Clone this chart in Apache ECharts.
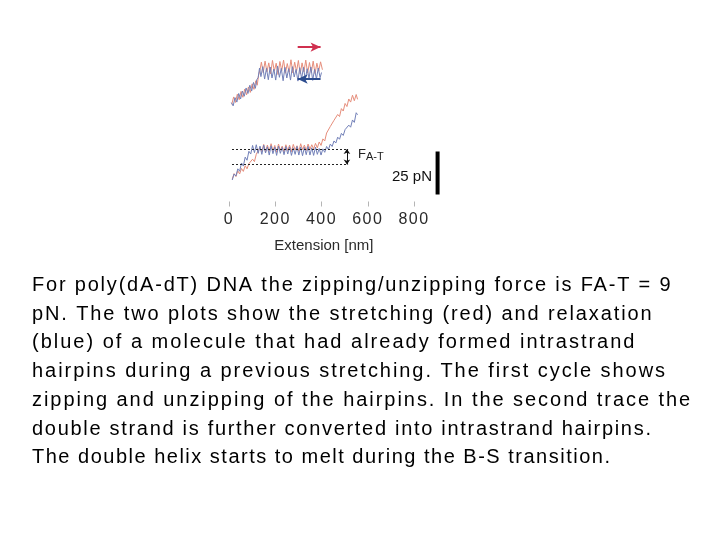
<!DOCTYPE html>
<html><head><meta charset="utf-8">
<script src="https://cdn.jsdelivr.net/npm/echarts@6/dist/echarts.min.js"></script>
<style>html,body{margin:0;padding:0;background:#fff}#c{width:720px;height:540px}</style>
</head><body><div id="c"></div>
<script>
// ---- data (nm, pN) ----
const xTicks = [0, 200, 400, 600, 800];
const xDrawMax = 920;        // room for the 25 pN scale bar right of the traces
const topStretch = [[12,56.5],[20,60.8],[28,57.6],[36,62.4],[44,59.2],[52,64.0],[60,60.6],[68,65.4],[76,62.0],[84,66.6],[92,63.4],[100,68.4],[108,65.2],[116,70.2],[122,67.6],[128,73.5],[134,76.4],[140,81.0],[148,75.0],[156,81.6],[164,75.4],[172,80.6],[180,74.2],[188,82.0],[196,75.8],[204,80.4],[212,73.8],[220,81.4],[228,76.0],[236,82.2],[244,74.6],[252,80.2],[260,75.2],[268,82.4],[276,74.8],[284,81.0],[292,75.6],[300,82.0],[308,74.2],[316,80.6],[324,75.4],[332,82.2],[340,74.6],[348,80.8],[356,75.0],[364,81.6],[372,74.4],[380,80.4],[388,75.8],[396,81.2],[404,76.6]];
const topRelax = [[10,57.5],[18,55.6],[26,60.4],[34,57.8],[42,62.8],[50,59.6],[58,64.2],[66,61.2],[74,66.0],[82,62.8],[90,67.6],[98,64.2],[106,69.2],[114,65.8],[120,70.8],[126,72.0],[132,77.6],[138,72.6],[146,78.4],[154,71.2],[162,77.4],[170,70.8],[178,78.2],[186,71.8],[194,77.0],[202,70.6],[210,78.8],[218,72.2],[226,77.4],[234,70.2],[242,78.0],[250,71.8],[258,77.2],[266,70.6],[274,78.4],[282,72.4],[290,76.8],[298,70.0],[306,77.8],[314,71.4],[322,78.0],[330,70.8],[338,77.2],[346,71.6],[354,78.2],[362,70.4],[370,76.8],[378,71.2],[386,77.6],[394,72.0],[400,75.0]];
const secondStretch = [[14,13.0],[22,16.2],[30,14.5],[38,17.8],[46,16.0],[54,19.2],[62,17.5],[70,20.8],[78,19.0],[86,22.0],[94,21.0],[102,24.6],[110,23.2],[118,27.5],[126,26.4],[134,31.5],[142,29.0],[150,33.2],[158,28.8],[166,32.8],[174,29.2],[182,33.6],[190,29.5],[198,32.6],[206,28.6],[214,33.4],[222,29.8],[230,32.2],[238,28.8],[246,33.0],[254,29.6],[262,32.8],[270,29.0],[278,33.2],[286,30.0],[294,32.4],[302,29.2],[310,33.6],[318,30.2],[326,32.8],[334,29.6],[342,33.4],[350,30.4],[358,33.0],[366,30.6],[374,33.8],[382,31.2],[390,34.6],[398,32.6],[406,36.4],[414,35.2],[422,39.8],[430,38.8],[438,43.6],[446,42.6],[454,47.2],[462,46.2],[470,50.6],[478,49.4],[486,54.0],[494,52.6],[502,57.0],[510,55.2],[518,59.6],[526,57.8],[534,61.8],[542,58.6],[550,62.2],[556,59.4]];
const secondRelax = [[14,12.5],[22,16.0],[30,14.8],[38,19.0],[46,17.6],[54,22.4],[62,20.6],[70,25.8],[78,24.0],[86,29.2],[94,27.6],[102,32.6],[110,28.4],[118,33.0],[126,28.0],[134,32.2],[142,27.4],[150,32.8],[158,28.2],[166,31.8],[174,27.0],[182,32.4],[190,27.8],[198,31.6],[206,26.8],[214,32.2],[222,28.0],[230,31.4],[238,27.2],[246,32.0],[254,27.6],[262,31.8],[270,26.8],[278,31.2],[286,27.4],[294,32.0],[302,27.0],[310,31.6],[318,26.6],[326,31.4],[334,27.2],[342,32.0],[350,27.0],[358,31.2],[366,26.8],[374,31.6],[382,27.4],[390,30.8],[398,27.0],[406,30.6],[414,28.6],[422,32.0],[430,30.2],[438,33.4],[446,32.0],[454,35.2],[462,34.0],[470,37.4],[478,36.2],[486,39.6],[494,38.4],[502,41.8],[510,40.8],[518,44.4],[526,43.2],[534,47.4],[542,46.0],[550,51.6],[556,50.4]];
const faT = 9;               // pN, zipping/unzipping force
const faTUpper = 30.5;       // pN, plateau level
const dottedSpan = [13, 515];
const faTArrowX = 510;
const stretchArrow = [[297, 89.8], [396, 89.8]];
const relaxArrow = [[396, 71.2], [297, 71.2]];
const scaleBarX = 902;
const scaleBarFrom = 4;
const scaleBarPN = 25;
const faLabel = ['F', 'A-T'];
const scaleLabel = '25 pN';
const axisName = 'Extension [nm]';
const caption = [
  'For poly(dA-dT) DNA the zipping/unzipping force is FA-T = 9',
  'pN. The two plots show the stretching (red) and relaxation',
  '(blue) of a molecule that had already formed intrastrand',
  'hairpins during a previous stretching. The first cycle shows',
  'zipping and unzipping of the hairpins. In the second trace the',
  'double strand is further converted into intrastrand hairpins.',
  'The double helix starts to melt during the B-S transition.'
];

// letter spacing emulation (slide text is set loosely)
const captionSpacing = [1.8, 1.88, 2.0, 1.95, 1.95, 1.7, 1.5];
const LS = {'16px': '1.5px'};
const _fill = CanvasRenderingContext2D.prototype.fillText;
CanvasRenderingContext2D.prototype.fillText = function (t, x, y, w) {
  const ci = caption.indexOf(t);
  let ls = '0px';
  if (ci >= 0) ls = captionSpacing[ci] + 'px';
  else {
    const m = /(\d+(?:\.\d+)?)px/.exec(this.font || '');
    ls = (m && LS[m[1] + 'px']) || '0px';
  }
  try { this.letterSpacing = ls; } catch (e) {}
  return w === undefined ? _fill.call(this, t, x, y) : _fill.call(this, t, x, y, w);
};

const FF = '"Liberation Sans", Arial, Helvetica, sans-serif';
const RED = '#e68d7b', BLUE = '#7280b8', RED_A = '#d0304f', BLUE_A = '#2c4c8e';

const chart = echarts.init(document.getElementById('c'), null, {renderer: 'canvas'});
const trace = (data, color) => ({
  type: 'line', data, symbol: 'none', silent: true, animation: false,
  lineStyle: {color, width: 1}, itemStyle: {color}
});
const arrowLine = (pts, color) => [
  {coord: pts[0], symbol: 'none', lineStyle: {color, width: 2, type: 'solid'}, itemStyle: {color}},
  {coord: pts[1], symbol: 'arrow', symbolSize: [7, 10], itemStyle: {color}}
];
const dotted = (lvl) => [
  {coord: [dottedSpan[0], lvl], lineStyle: {color: '#222', width: 1, type: [2, 2]}},
  {coord: [dottedSpan[1], lvl]}
];

chart.setOption({
  backgroundColor: '#ffffff',
  animation: false,
  grid: {left: 229, top: 29.5, width: xDrawMax * 0.23125, height: 172, outerBoundsMode: 'none', containLabel: false},
  xAxis: {
    type: 'value', min: xTicks[0], max: xDrawMax,
    axisLine: {show: false}, splitLine: {show: false},
    axisTick: {show: true, length: 5, customValues: xTicks, lineStyle: {color: '#b5b5b5', width: 1}},
    axisLabel: {margin: 10, customValues: xTicks, color: '#2a2a2a', fontSize: 16, fontFamily: FF},
    name: axisName, nameLocation: 'middle', nameGap: 37,
    nameTextStyle: {color: '#2a2a2a', fontSize: 15, fontFamily: FF, padding: [0, 23, 0, 0]}
  },
  yAxis: {type: 'value', min: 0, max: 100, show: false},
  series: [
    trace(topStretch, RED),
    trace(topRelax, BLUE),
    trace(secondStretch, RED),
    trace(secondRelax, BLUE),
    {
      type: 'line', silent: true, animation: false, symbol: 'none',
      data: [[scaleBarX, scaleBarFrom], [scaleBarX, scaleBarFrom + scaleBarPN]],
      lineStyle: {color: '#000', width: 4, cap: 'butt'},
      markLine: {
        silent: true, animation: false, symbol: ['none', 'none'],
        label: {show: false}, emphasis: {disabled: true},
        data: [
          dotted(faTUpper),
          dotted(faTUpper - faT),
          [
            {coord: [faTArrowX, faTUpper], symbol: 'arrow', symbolSize: [5, 5], lineStyle: {color: '#111', width: 1, type: 'solid'}, itemStyle: {color: '#111'}},
            {coord: [faTArrowX, faTUpper - faT], symbol: 'arrow', symbolSize: [5, 5], itemStyle: {color: '#111'}}
          ],
          arrowLine(stretchArrow, RED_A),
          arrowLine(relaxArrow, BLUE_A)
        ]
      }
    }
  ],
  graphic: [
    {type: 'text', x: 358, y: 154.5, silent: true,
      style: {text: faLabel[0], font: '13px ' + FF, fill: '#222', verticalAlign: 'middle', textVerticalAlign: 'middle'}},
    {type: 'text', x: 366, y: 157.2, silent: true,
      style: {text: faLabel[1], font: '11px ' + FF, fill: '#222', verticalAlign: 'middle', textVerticalAlign: 'middle'}},
    {type: 'text', x: 432, y: 176.5, silent: true,
      style: {text: scaleLabel, font: '15px ' + FF, fill: '#111', align: 'right', textAlign: 'right', verticalAlign: 'middle', textVerticalAlign: 'middle'}}
  ].concat(caption.map((t, i) => ({
    type: 'text', x: 32, y: 285.5 + 28.7 * i, silent: true,
    style: {text: t, font: '20px ' + FF, fill: '#000', verticalAlign: 'middle', textVerticalAlign: 'middle'}
  })))
});
</script></body></html>
